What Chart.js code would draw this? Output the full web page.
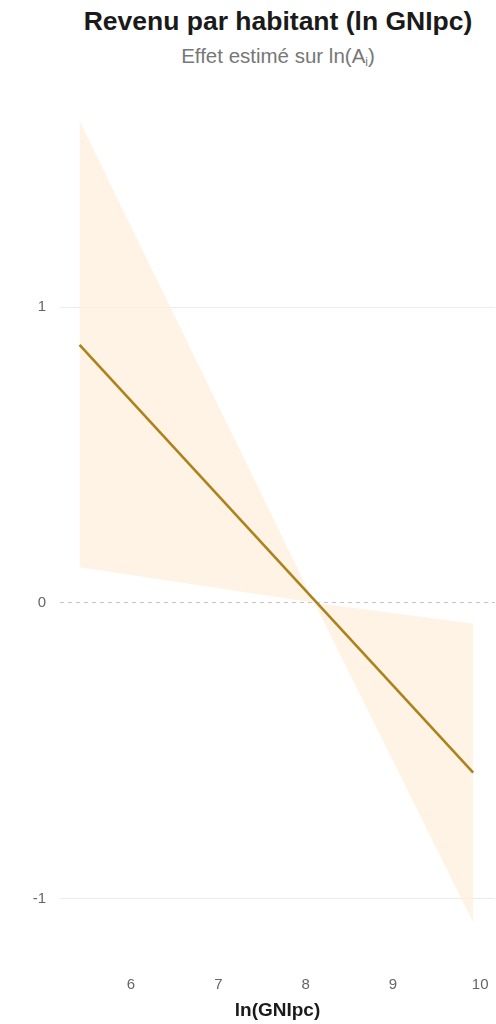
<!DOCTYPE html>
<html lang="fr">
<head>
<meta charset="utf-8">
<title>Revenu par habitant (ln GNIpc)</title>
<script src="https://cdn.jsdelivr.net/npm/chart.js@4.4.1/dist/chart.umd.min.js"></script>
<style>
    html, body { margin: 0; padding: 0; background: #fff; }
    body { width: 496px; height: 1024px; position: relative; overflow: hidden; font-family: "Liberation Sans", Arial, sans-serif; }
    .chart-title { position: absolute; left: 60px; width: 436px; text-align: center; margin: 0; }
    .chart-title h1 { margin: 0; font-size: 26.5px; font-weight: bold; color: #1a1a1a; line-height: 30px; }
    .chart-title p { margin: 8px 0 0; font-size: 20.5px; color: #777; line-height: 24px; }
    .chart-title sub { font-size: 12px; vertical-align: -3px; }
    #effectChart { position: absolute; left: 0; top: 0; }
</style>
</head>
<body>
<div class="chart-title" style="top: 6px;">
    <h1>Revenu par habitant (ln GNIpc)</h1>
    <p>Effet estimé sur ln(A<sub>i</sub>)</p>
</div>
<canvas id="effectChart" width="496" height="1024"></canvas>
<script>
// valeurs
const lineX = [5.41, 9.92];
const lineY = [0.872, -0.574];

const bandX = [5.41, 8.1, 9.92];
const bandUpper = [1.63, 0.0, -0.07];
const bandLower = [0.12, 0.0, -1.08];

const xTicks = [6, 7, 8, 9, 10];
const yTicks = [-1, 0, 1];

const toPoints = (xs, ys) => xs.map((x, i) => ({ x, y: ys[i] }));

const fontFamily = "'Liberation Sans', Arial, sans-serif";
const bandColor = "rgba(253, 239, 219, 0.72)";
const lineColor = "#ad821c";

new Chart(document.getElementById("effectChart"), {
    type: "scatter",
    data: {
        datasets: [
            {
                label: "Effet",
                data: toPoints(lineX, lineY),
                showLine: true,
                borderColor: lineColor,
                borderWidth: 2.6,
                pointRadius: 0,
                fill: false,
                order: 0
            },
            {
                label: "IC haut",
                data: toPoints(bandX, bandUpper),
                showLine: true,
                borderWidth: 0,
                borderColor: "rgba(0,0,0,0)",
                backgroundColor: bandColor,
                pointRadius: 0,
                fill: "+1",
                order: 1
            },
            {
                label: "IC bas",
                data: toPoints(bandX, bandLower),
                showLine: true,
                borderWidth: 0,
                borderColor: "rgba(0,0,0,0)",
                pointRadius: 0,
                fill: false,
                order: 2
            }
        ]
    },
    options: {
        responsive: false,
        animation: false,
        layout: { padding: { top: 100, left: 0, right: 1, bottom: 2 } },
        plugins: {
            legend: { display: false },
            tooltip: { enabled: false }
        },
        scales: {
            x: {
                type: "linear",
                min: 5.186,
                max: 10.17,
                afterBuildTicks: (scale) => { scale.ticks = xTicks.map((value) => ({ value })); },
                afterFit: (scale) => {
                    scale.height = 82;
                    scale.paddingLeft = 0;
                    scale.paddingRight = 0;
                },
                grid: { display: false, drawTicks: false },
                border: { display: false },
                ticks: { color: "#666", font: { family: fontFamily, size: 15 }, padding: 36 },
                title: {
                    display: true,
                    text: "ln(GNIpc)",
                    color: "#1a1a1a",
                    font: { family: fontFamily, size: 19, weight: "bold" },
                    padding: { top: 0, bottom: 0 }
                }
            },
            y: {
                type: "linear",
                min: -1.14,
                max: 1.70,
                afterBuildTicks: (scale) => { scale.ticks = yTicks.map((value) => ({ value })); },
                afterFit: (scale) => {
                    scale.width = 60;
                    scale.paddingTop = 0;
                    scale.paddingBottom = 0;
                },
                grid: {
                    drawTicks: false,
                    color: (ctx) => (ctx.tick && ctx.tick.value === 0 ? "#c4c4c4" : "#ececec"),
                    lineWidth: 1
                },
                border: {
                    display: false,
                    dash: (ctx) => (ctx.tick && ctx.tick.value === 0 ? [4, 4] : [])
                },
                ticks: { color: "#666", font: { family: fontFamily, size: 15 }, padding: 14 }
            }
        }
    }
});
</script>
</body>
</html>
